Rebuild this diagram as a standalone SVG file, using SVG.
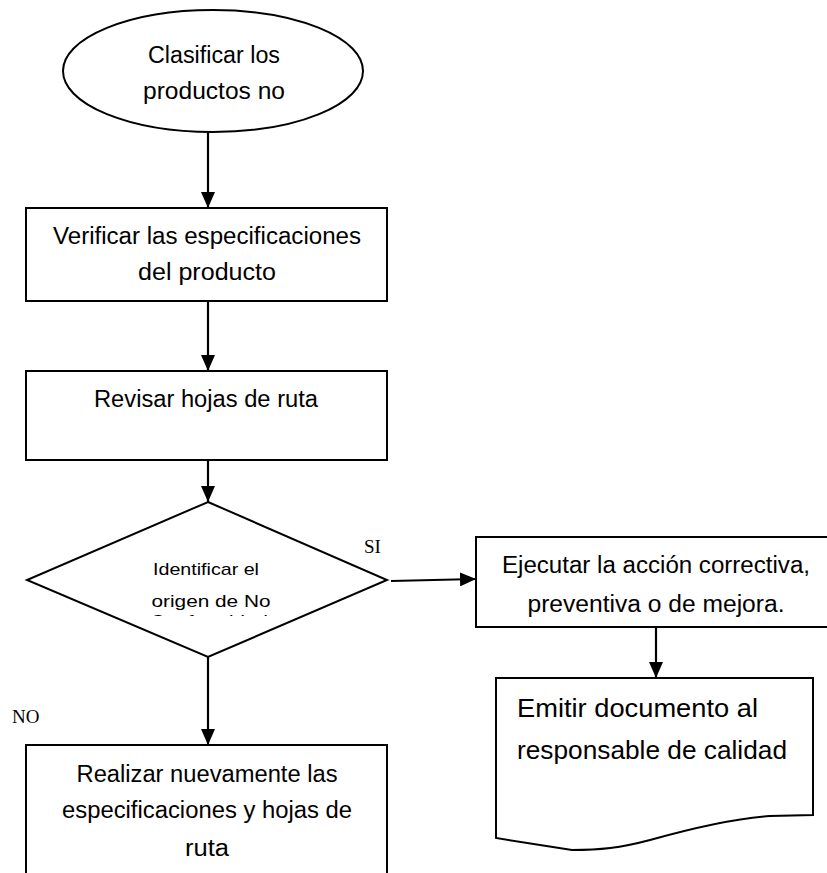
<svg xmlns="http://www.w3.org/2000/svg" width="827" height="873" viewBox="0 0 827 873">
  <style>
    .shape { fill: #ffffff; stroke: #000000; stroke-width: 2; }
    .edge { fill: none; stroke: #000000; stroke-width: 2.2; }
    .lbl { font-family: "Liberation Sans", Arial, sans-serif; fill: #000000; text-anchor: middle; }
    .big { font-size: 23px; }
    .mid { font-size: 17px; }
    .doc { font-size: 25px; text-anchor: start; }
    .tag { font-family: "Liberation Serif", "Times New Roman", serif; font-size: 19px; fill: #000000; }
  </style>
  <defs>
    <marker id="arrow" viewBox="0 0 16 14" refX="16" refY="7" markerWidth="16" markerHeight="14" markerUnits="userSpaceOnUse" orient="auto">
      <path d="M0,0 L16,7 L0,14 z" fill="#000000"/>
    </marker>
    <clipPath id="diamondText">
      <rect x="0" y="540" width="400" height="76"/>
    </clipPath>
  </defs>
  <rect width="827" height="873" fill="#ffffff"/>

  <g id="connectors">
    <line class="edge" x1="208" y1="132" x2="208" y2="208" marker-end="url(#arrow)"/>
    <line class="edge" x1="208" y1="301" x2="208" y2="371" marker-end="url(#arrow)"/>
    <line class="edge" x1="208" y1="460" x2="208" y2="502" marker-end="url(#arrow)"/>
    <line class="edge" x1="391" y1="581" x2="476" y2="579" marker-end="url(#arrow)"/>
    <line class="edge" x1="656" y1="627" x2="656" y2="678" marker-end="url(#arrow)"/>
    <line class="edge" x1="208" y1="657" x2="208" y2="745" marker-end="url(#arrow)"/>
  </g>

  <g id="start">
    <ellipse class="shape" cx="213" cy="71" rx="150" ry="61" stroke-width="1.6"/>
    <text class="lbl big" x="214" y="63" textLength="132" lengthAdjust="spacingAndGlyphs">Clasificar los</text>
    <text class="lbl big" x="214" y="99" textLength="142" lengthAdjust="spacingAndGlyphs">productos no</text>
  </g>

  <g id="verify">
    <rect class="shape" x="26" y="208" width="361" height="93"/>
    <text class="lbl big" x="207" y="244" textLength="308" lengthAdjust="spacingAndGlyphs">Verificar las especificaciones</text>
    <text class="lbl big" x="207" y="280" textLength="138" lengthAdjust="spacingAndGlyphs">del producto</text>
  </g>

  <g id="review">
    <rect class="shape" x="26" y="371" width="361" height="89"/>
    <text class="lbl big" x="206" y="407" textLength="224" lengthAdjust="spacingAndGlyphs">Revisar hojas de ruta</text>
  </g>

  <g id="decision">
    <polygon class="shape" points="208,502 387,580 208,657 27,580"/>
    <text class="lbl mid" x="206" y="575" textLength="106" lengthAdjust="spacingAndGlyphs">Identificar el</text>
    <text class="lbl mid" x="211" y="607" textLength="119" lengthAdjust="spacingAndGlyphs">origen de No</text>
    <text class="lbl mid" x="209" y="627" clip-path="url(#diamondText)" textLength="118" lengthAdjust="spacingAndGlyphs">Conformidad</text>
    <text class="tag" x="364" y="553">SI</text>
    <text class="tag" x="12" y="723">NO</text>
  </g>

  <g id="execute">
    <rect class="shape" x="476" y="537" width="370" height="90"/>
    <text class="lbl big" x="656" y="573" textLength="308" lengthAdjust="spacingAndGlyphs">Ejecutar la acción correctiva,</text>
    <text class="lbl big" x="656" y="612" textLength="257" lengthAdjust="spacingAndGlyphs">preventiva o de mejora.</text>
  </g>

  <g id="document">
    <path class="shape" d="M496,678 L813,678 L813,815 L770,816 C740,818 700,826 650,840 C620,848 600,850 572,850 L496,838 Z"/>
    <text class="lbl doc" x="517" y="717" textLength="241" lengthAdjust="spacingAndGlyphs">Emitir documento al</text>
    <text class="lbl doc" x="517" y="759" textLength="270" lengthAdjust="spacingAndGlyphs">responsable de calidad</text>
  </g>

  <g id="redo">
    <rect class="shape" x="26" y="745" width="361" height="140"/>
    <text class="lbl big" x="207" y="782" textLength="261" lengthAdjust="spacingAndGlyphs">Realizar nuevamente las</text>
    <text class="lbl big" x="207" y="818" textLength="290" lengthAdjust="spacingAndGlyphs">especificaciones y hojas de</text>
    <text class="lbl big" x="207" y="856" textLength="44" lengthAdjust="spacingAndGlyphs">ruta</text>
  </g>
</svg>
